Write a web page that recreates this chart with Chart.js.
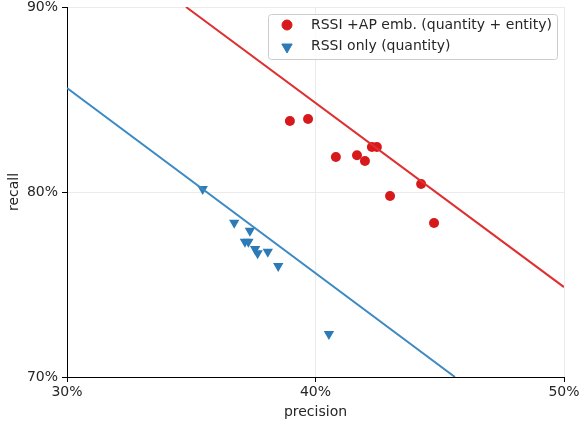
<!DOCTYPE html>
<html><head><meta charset="utf-8">
<script src="https://cdn.jsdelivr.net/npm/chart.js@4/dist/chart.umd.min.js"></script>
<style>html,body{margin:0;padding:0;background:#fff}#wrap{width:579px;height:423px}</style>
</head><body><div id="wrap"><canvas id="c" width="579" height="423"></canvas></div>
<script>
const apPrecision = [38.97, 39.70, 40.82, 41.67, 41.99, 42.27, 42.47, 43.00, 44.25, 44.77];
const apRecall    = [83.84, 83.95, 81.89, 81.99, 81.68, 82.43, 82.43, 79.78, 80.43, 78.32];
const rssiPrecision = [35.46, 36.73, 37.36, 37.16, 37.30, 37.57, 37.67, 38.08, 38.50, 40.54];
const rssiRecall    = [80.16, 78.34, 77.91, 77.31, 77.31, 76.92, 76.69, 76.77, 76.00, 72.32];
const apFitX = [34.79, 50.0];
const apFitY = [90.0, 74.86];
const rssiFitX = [30.0, 45.61];
const rssiFitY = [85.62, 70.0];
const xTicks = [30, 40, 50];
const yTicks = [70, 80, 90];
const legendLabels = ['RSSI +AP emb. (quantity + entity)', 'RSSI only (quantity)'];

const RED = '#d7191c', BLUE = '#2c7bb6', RED_LINE = '#de3030', BLUE_LINE = '#3c8ac4';
const FONT = 'DejaVu Sans';
const FS = 14;
const pts = (xs, ys) => xs.map((x, i) => ({x, y: ys[i]}));

const legendPlugin = {
  id: 'boxLegend',
  afterDraw(chart) {
    const ctx = chart.ctx;
    const x0 = 268, y0 = 14, w = 289, h = 45;
    ctx.save();
    ctx.beginPath();
    ctx.roundRect(x0 + 0.5, y0 + 0.5, w, h, 3);
    ctx.fillStyle = 'rgba(255,255,255,0.8)';
    ctx.fill();
    ctx.strokeStyle = '#cccccc';
    ctx.lineWidth = 1;
    ctx.stroke();
    const rows = [
      {label: legendLabels[0], style: 'circle', color: RED, r: 5, rot: 0, y: 25},
      {label: legendLabels[1], style: 'triangle', color: BLUE, r: 6, rot: 180, y: 46}
    ];
    rows.forEach(rw => {
      ctx.fillStyle = rw.color; ctx.strokeStyle = rw.color; ctx.lineWidth = 1;
      Chart.helpers.drawPoint(ctx, {pointStyle: rw.style, radius: rw.r, rotation: rw.rot, borderWidth: 1}, 287, rw.y + (rw.style === 'triangle' ? 1 : 0));
      ctx.fillStyle = '#262626';
      ctx.font = FS + 'px "' + FONT + '"';
      ctx.textBaseline = 'middle';
      ctx.textAlign = 'left';
      ctx.fillText(rw.label, 311, rw.y);
    });
    ctx.restore();
  }
};

new Chart(document.getElementById('c'), {
  type: 'scatter',
  data: {
    datasets: [
      {type: 'line', data: pts(apFitX, apFitY), borderColor: RED_LINE, borderWidth: 2, pointRadius: 0, fill: false},
      {type: 'line', data: pts(rssiFitX, rssiFitY), borderColor: BLUE_LINE, borderWidth: 2, pointRadius: 0, fill: false},
      {data: pts(apPrecision, apRecall), backgroundColor: RED, borderColor: RED, pointStyle: 'circle', pointRadius: 5, borderWidth: 0},
      {data: pts(rssiPrecision, rssiRecall), backgroundColor: BLUE, borderColor: BLUE, pointStyle: 'triangle', pointRotation: 180, pointRadius: 6, borderWidth: 0}
    ]
  },
  options: {
    responsive: false,
    animation: false,
    layout: {padding: {top: 7, right: 15, left: 0, bottom: 0}},
    plugins: {legend: {display: false}, tooltip: {enabled: false}},
    scales: {
      x: {
        type: 'linear', min: 30, max: 50,
        afterBuildTicks: s => { s.ticks = xTicks.map(v => ({value: v})); },
        afterFit: s => { s.height = 46; s.paddingLeft = 0; s.paddingRight = 0; },
        ticks: {callback: v => v + '%', color: '#262626', font: {family: FONT, size: FS}, padding: 2, maxRotation: 0},
        grid: {color: '#ebebeb', tickColor: '#000', tickLength: 5, lineWidth: 1},
        border: {color: '#000', width: 1},
        title: {display: true, text: 'precision', color: '#262626', font: {family: FONT, size: FS}, padding: {top: 0, bottom: 2}}
      },
      y: {
        type: 'linear', min: 70, max: 90,
        afterBuildTicks: s => { s.ticks = yTicks.map(v => ({value: v})); },
        afterFit: s => { s.width = 67; s.paddingTop = 0; s.paddingBottom = 0; },
        ticks: {callback: v => v + '%', color: '#262626', font: {family: FONT, size: FS}, padding: 4},
        grid: {color: '#ebebeb', tickColor: '#000', tickLength: 5, lineWidth: 1},
        border: {color: '#000', width: 1},
        title: {display: true, text: 'recall', color: '#262626', font: {family: FONT, size: FS}, padding: {top: 6, bottom: 0}}
      }
    }
  },
  plugins: [legendPlugin]
});
</script></body></html>
